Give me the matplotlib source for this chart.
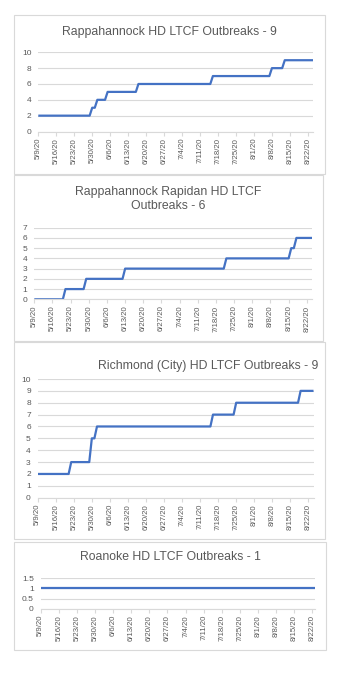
import numpy as np
import pandas as pd
import matplotlib
matplotlib.use("Agg")
import matplotlib.pyplot as plt
from matplotlib.patches import Rectangle

plt.rcParams['font.family'] = ['Liberation Sans', 'DejaVu Sans']

# data: dates where the cumulative count changes, and the new count
start = "2020-05-09"

titles = ["Rappahannock HD LTCF Outbreaks - 9",
          "Rappahannock Rapidan HD LTCF\nOutbreaks - 6",
          "Richmond (City) HD LTCF Outbreaks - 9",
          "Roanoke HD LTCF Outbreaks - 1"]

rapp_dates = ["2020-05-09", "2020-05-30", "2020-06-01", "2020-06-05",
              "2020-06-17", "2020-07-16", "2020-08-08", "2020-08-13"]
rapp_counts = [2, 3, 4, 5, 6, 7, 8, 9]

rr_dates = ["2020-05-09", "2020-05-21", "2020-05-29", "2020-06-13",
            "2020-07-22", "2020-08-16", "2020-08-18"]
rr_counts = [0, 1, 2, 3, 4, 5, 6]

rich_dates = ["2020-05-09", "2020-05-22", "2020-05-30", "2020-06-01",
              "2020-07-16", "2020-07-25", "2020-08-19"]
rich_counts = [2, 3, 5, 6, 7, 8, 9]

roan_dates = ["2020-05-09"]
roan_counts = [1]

end_dates = ["2020-08-24", "2020-08-24", "2020-08-24", "2020-08-23"]
y_max = [10, 7, 10, 1.5]
y_step = [2, 1, 1, 0.5]

W, H = 340, 675
fig = plt.figure(figsize=(W / 100, H / 100), dpi=100)
fig.patch.set_facecolor("white")

# panel borders (px: left, top, right, bottom)
panels = [(14, 15, 325, 174), (14, 175, 323, 341), (14, 342, 325, 539), (14, 542, 326, 650)]
# plot areas
areas = [(38.3, 52.3, 313, 131.5), (34.3, 227.7, 312, 299.3),
         (37.7, 379, 313.5, 497.7), (40.7, 578.3, 315, 608.7)]
title_pos = [(169, 31.7), (167.7, 199), (208, 365.7), (170, 556.7)]

series = [(rapp_dates, rapp_counts), (rr_dates, rr_counts),
          (rich_dates, rich_counts), (roan_dates, roan_counts)]

grey = "#d9d9d9"
txt = "#595959"

for i in range(4):
    l, t, r, b = panels[i]
    fig.patches.append(Rectangle((l / W, 1 - b / H), (r - l) / W, (b - t) / H,
                                 transform=fig.transFigure, fill=False,
                                 edgecolor=grey, lw=0.8))
    l, t, r, b = areas[i]
    ax = fig.add_axes([l / W, 1 - b / H, (r - l) / W, (b - t) / H])

    chg = pd.to_datetime(series[i][0])
    cnt = np.array(series[i][1])
    days = pd.date_range(start, end_dates[i], freq="D")
    vals = cnt[np.searchsorted(chg, days, side="right") - 1]
    ax.plot(days, vals, color="#4472c4", lw=1.6, solid_capstyle="butt")

    ax.set_xlim(pd.Timestamp(start), pd.Timestamp(end_dates[i]))
    ax.set_ylim(0, y_max[i])
    yt = np.arange(0, y_max[i] + 0.01, y_step[i])
    ax.set_yticks(yt)
    ax.set_yticklabels(["%g" % v for v in yt])
    ticks = pd.date_range(start, "2020-08-22", freq="7D")
    ax.set_xticks(ticks)
    ax.set_xticklabels([f"{d.month}/{d.day}/20" for d in ticks])
    ax.grid(axis="y", color=grey, lw=0.8)
    ax.set_axisbelow(True)
    for s in ["left", "right", "top"]:
        ax.spines[s].set_visible(False)
    ax.spines["bottom"].set_color(grey)
    ax.spines["bottom"].set_linewidth(0.8)
    ax.tick_params(axis="y", length=0, labelsize=6, labelcolor=txt, pad=5)
    ax.tick_params(axis="x", length=3, color=grey, width=0.8, labelsize=5.6,
                   labelcolor=txt, labelrotation=90, pad=1.5)

    tx, ty = title_pos[i]
    fig.text(tx / W, 1 - ty / H, titles[i], ha="center", va="center",
             fontsize=8.8, color=txt, linespacing=1.3)

fig.savefig("out.png", dpi=100)
